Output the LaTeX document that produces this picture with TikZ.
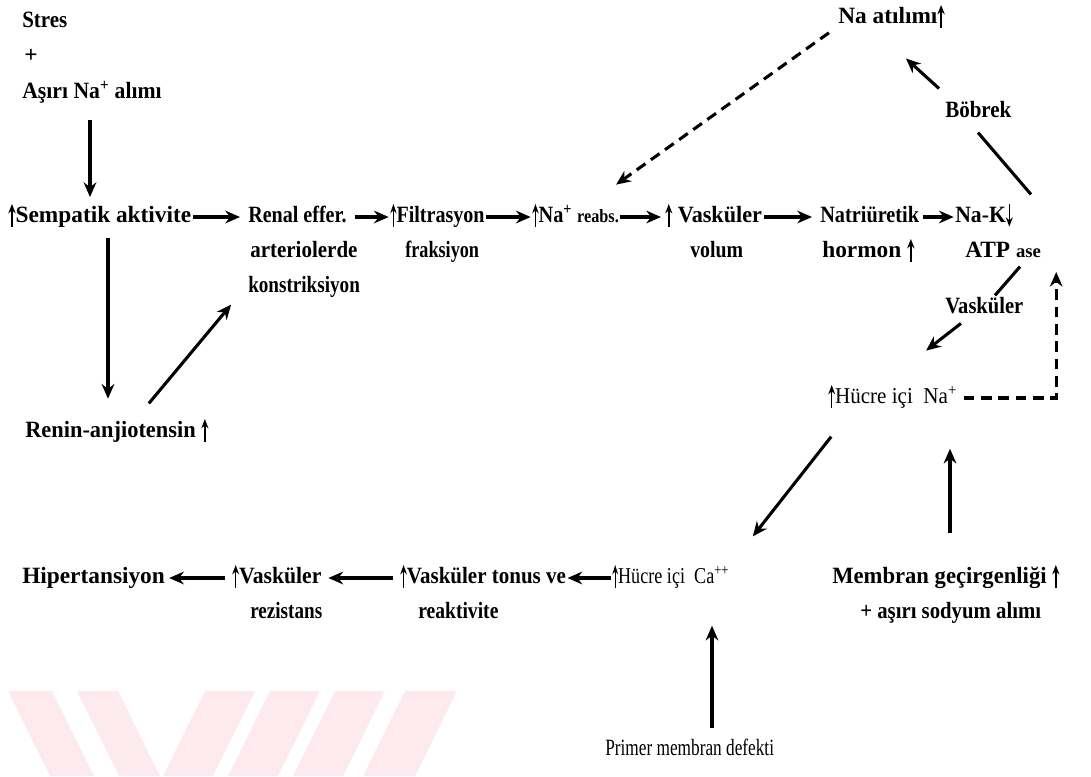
\documentclass[tikz,border=0pt]{standalone}
\usepackage{fontspec}
\setmainfont{Liberation Serif}
\usetikzlibrary{arrows.meta,calc}
\definecolor{wmpink}{RGB}{253,234,238}
% small inline arrows that mark an increase or a decrease
\newcommand\upmark{\tikz[baseline=0pt]\draw[line width=1.3pt,-{Stealth[length=7pt,width=5.5pt]}] (0pt,-3pt) -- (0pt,14pt);}
\newcommand\downmark{\tikz[baseline=0pt]\draw[line width=1.3pt,-{Stealth[length=7pt,width=5.5pt]}] (0pt,14pt) -- (0pt,-3pt);}
% horizontally condensed text
\newcommand\hsq[2]{\scalebox{#1}[1]{#2}}
\newcommand\smallfs{\fontsize{14}{16}\selectfont}
\newcommand\cellfs{\mdseries\fontsize{17}{19}\selectfont}
\begin{document}
\begin{tikzpicture}[x=0.75pt,y=-0.75pt,
  lbl/.style={anchor=west,inner sep=0pt,text height=12pt,text depth=3.5pt,
              font=\bfseries\fontsize{17.5}{20}\selectfont},
  link/.style={line width=2.3pt,-{Stealth[length=11pt,width=9.5pt]},shorten <=1pt,shorten >=1pt},
  plainline/.style={line width=2.3pt},
  dlink/.style={link,dash pattern=on 8pt off 5pt}]
\useasboundingbox (0,0) rectangle (1091,776);

% pale stripes along the bottom edge
\begin{scope}[fill=wmpink]
  \fill (8,691) -- (52,691) -- (94,776) -- (50,776) -- cycle;
  \fill (77,691) -- (118,691) -- (160,776) -- (119,776) -- cycle;
  \fill (205,691) -- (255,691) -- (213,776) -- (163,776) -- cycle;
  \fill (270,691) -- (320,691) -- (278,776) -- (228,776) -- cycle;
  \fill (335,691) -- (385,691) -- (343,776) -- (293,776) -- cycle;
  \fill (405,691) -- (457,691) -- (415,776) -- (363,776) -- cycle;
\end{scope}

% labels
\node[lbl] (stres) at (22,22) {\hsq{0.9}{Stres}};
\node[lbl] (plus) at (24,57) {+};
\node[lbl] (asiri) at (22,93) {\hsq{0.93}{Aşırı Na\textsuperscript{+} alımı}};
\node[lbl] (symp) at (8,217) {\upmark Sempatik aktivite};
\node[lbl] (renal) at (248,217) {\hsq{0.86}{Renal effer.}};
\node[lbl] (arter) at (250,252) {\hsq{0.9}{arteriolerde}};
\node[lbl] (konst) at (248,287) {\hsq{0.82}{konstriksiyon}};
\node[lbl] (filt) at (390,217) {\hsq{0.86}{\upmark Filtrasyon}};
\node[lbl] (frak) at (405,252) {\hsq{0.78}{fraksiyon}};
\node[lbl] (nare) at (532,217) {\hsq{0.87}{\upmark Na\textsuperscript{+} {\smallfs reabs.}}};
\node[lbl] (vask) at (665,217) {\hsq{0.95}{\upmark\ Vasküler}};
\node[lbl] (volum) at (690,252) {\hsq{0.85}{volum}};
\node[lbl] (natri) at (820,217) {\hsq{0.87}{Natriüretik}};
\node[lbl] (hormon) at (822,252) {hormon \upmark};
\node[lbl] (nak) at (955,217) {\hsq{0.93}{Na-K\downmark}};
\node[lbl] (atp) at (965,252) {ATP {\smallfs ase}};
\node[lbl] (naat) at (838,18) {Na atılımı\upmark};
\node[lbl] (bobrek) at (945,112) {\hsq{0.9}{Böbrek}};
\node[lbl] (vaskr) at (945,308) {\hsq{0.88}{Vasküler}};
\node[lbl] (hna) at (828,398) {\hsq{0.93}{\upmark{\cellfs Hücre içi\ \ Na\textsuperscript{+}}}};
\node[lbl] (renin) at (25,432) {\hsq{0.96}{Renin-anjiotensin \upmark}};
\node[lbl] (hiper) at (22,578) {Hipertansiyon};
\node[lbl] (vrez) at (232,578) {\hsq{0.93}{\upmark Vasküler}};
\node[lbl] (rez) at (250,613) {\hsq{0.82}{rezistans}};
\node[lbl] (vton) at (400,578) {\hsq{0.9}{\upmark Vasküler tonus ve}};
\node[lbl] (reak) at (418,613) {\hsq{0.84}{reaktivite}};
\node[lbl] (hca) at (612,578) {\hsq{0.8}{\upmark{\cellfs Hücre içi\ \ Ca\textsuperscript{++}}}};
\node[lbl] (memb) at (832,578) {\hsq{0.97}{Membran geçirgenliği \upmark}};
\node[lbl] (sod) at (860,613) {\hsq{0.89}{+ aşırı sodyum alımı}};
\node[lbl,font=\fontsize{17.5}{20}\selectfont] (primer) at (605,750) {\hsq{0.74}{Primer membran defekti}};

% main chain along the top row
\draw[link,shorten >=7pt] ($(asiri.south west)+(68,15)$) coordinate (a1) -- (a1 |- symp.north);
\draw[link,shorten >=6pt] (symp.east) -- (renal.west);
\draw[link,shorten <=6pt] (renal.east) -- (filt.west);
\draw[link] (filt.east) -- (nare.west);
\draw[link,shorten >=3pt] (nare.east) -- (vask.west);
\draw[link,shorten >=6pt] (vask.east) -- (natri.west);
\draw[link,shorten <=3pt] (natri.east) -- (nak.west);

% renin--angiotensin loop
\draw[link,shorten >=17pt] ($(symp.south west)+(100,9)$) coordinate (a2) -- (a2 |- renin.north);
\draw[link] ($(renin.north west)+(123,-17)$) -- ($(konst.south west)+(-16,6)$);

% kidney and sodium excretion
\draw[plainline] ($(nak.north east)+(18,-12)$) -- ($(bobrek.south west)+(33,10)$);
\draw[link] ($(bobrek.north west)+(-5,-12)$) -- ($(naat.south west)+(67,29)$);
\draw[dlink] ($(naat.west)+(-8,14)$) -- ($(nare.north west)+(83,-21)$);

% cell sodium and calcium
\draw[plainline] ($(atp.south west)+(55,4)$) -- ($(vaskr.north west)+(50,-2)$);
\draw[link] ($(vaskr.south west)+(17,4)$) -- ($(hna.north west)+(97,-36)$);
\draw[dlink] ($(hna.east)+(5,0)$) -| ($(atp.south east)+(15,8)$);
\draw[link] ($(hna.south west)+(4,27)$) -- ($(hca.north west)+(140,-30)$);
\draw[link] ($(memb.north west)+(118,-33)$) -- ($(memb.north west)+(118,-120)$);
\draw[link] ($(primer.north west)+(107,-10)$) -- ($(primer.north west)+(107,-115)$);

% bottom row towards hypertension
\draw[link] (hca.west) -- (vton.east);
\draw[link,shorten <=5pt,shorten >=5pt] (vton.west) -- (vrez.east);
\draw[link,shorten <=5pt,shorten >=3pt] (vrez.west) -- (hiper.east);
\end{tikzpicture}
\end{document}
